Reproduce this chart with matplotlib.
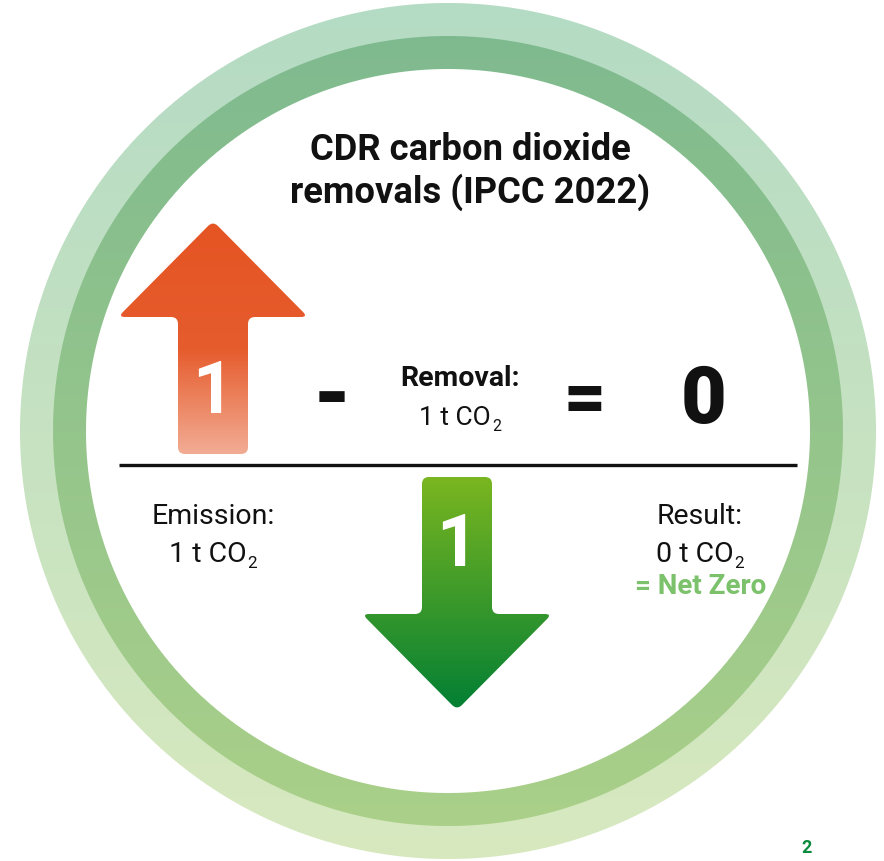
import numpy as np
import matplotlib
matplotlib.use("Agg")
import matplotlib.pyplot as plt
from matplotlib.path import Path
from matplotlib.patches import PathPatch

# ---- data ----
emission_t = 1
removal_t = 1
result_t = emission_t - removal_t
title_lines = ["CDR carbon dioxide", "removals (IPCC 2022)"]
labels = {"emission": "Emission:", "removal": "Removal:", "result": "Result:"}
net_zero_label = "= Net Zero"
page_number = "2"

W, H, DPI = 884, 862, 100
fig = plt.figure(figsize=(W / DPI, H / DPI), dpi=DPI)
ax = fig.add_axes([0, 0, 1, 1])
ax.set_xlim(0, W)
ax.set_ylim(H, 0)
ax.axis("off")

# ---- ring background ----
cx, cy = 448, 432
r_out, r_mid, r_in = 428, 395, 362
yy, xx = np.mgrid[0:H, 0:W] + 0.5
rr = np.hypot(xx - cx, yy - cy)
t = np.clip((yy - (cy - r_out)) / (2 * r_out), 0, 1)[..., None]
light_top, light_bot = np.array([180, 219, 196]), np.array([216, 233, 191])
dark_top, dark_bot = np.array([125, 185, 143]), np.array([172, 209, 137])
light = (light_top + (light_bot - light_top) * t) / 255
dark = (dark_top + (dark_bot - dark_top) * t) / 255
a_out = np.clip(r_out - rr + 0.5, 0, 1)
a_mid = np.clip(r_mid - rr + 0.5, 0, 1)
a_in = np.clip(r_in - rr + 0.5, 0, 1)
white = np.ones(3)
col = light * (1 - a_mid)[..., None] + dark * a_mid[..., None]
col = col * (1 - a_in)[..., None] + white * a_in[..., None]
img = np.dstack([col, a_out])
ax.imshow(img, extent=(0, W, H, 0), interpolation="bilinear", zorder=0)


def rounded_path(pts, r):
    pts = [np.asarray(p, float) for p in pts]
    n = len(pts)
    verts, codes = [], []
    for i in range(n):
        p0, p1, p2 = pts[i - 1], pts[i], pts[(i + 1) % n]
        v1, v2 = p0 - p1, p2 - p1
        l1, l2 = np.hypot(*v1), np.hypot(*v2)
        a = p1 + v1 / l1 * min(r, l1 / 2)
        b = p1 + v2 / l2 * min(r, l2 / 2)
        verts.append(a)
        codes.append(Path.MOVETO if i == 0 else Path.LINETO)
        verts += [p1, b]
        codes += [Path.CURVE3, Path.CURVE3]
    verts.append(verts[0])
    codes.append(Path.CLOSEPOLY)
    return Path(verts, codes)


UNIT = 233  # pixel length of 1 t arrow
HEAD_LEN, HEAD_HW, SHAFT_HW = 96, 95, 35


def arrow(xc, y_start, value, direction, stops):
    L = UNIT * value
    tip = y_start + direction * L
    hb = tip - direction * HEAD_LEN
    pts = [(xc - SHAFT_HW, y_start), (xc - SHAFT_HW, hb), (xc - HEAD_HW, hb), (xc, tip),
           (xc + HEAD_HW, hb), (xc + SHAFT_HW, hb), (xc + SHAFT_HW, y_start)]
    path = rounded_path(pts, 7)
    patch = PathPatch(path, facecolor="none", edgecolor="none")
    ax.add_patch(patch)
    y0, y1 = min(y_start, tip), max(y_start, tip)
    ys = np.linspace(y0, y1, 256)
    fr = (ys - y0) / (y1 - y0)
    sp = np.array([s[0] for s in stops])
    cs = np.array([s[1] for s in stops]) / 255
    grad = np.stack([np.interp(fr, sp, cs[:, k]) for k in range(3)], axis=-1)
    grad = np.repeat(grad[:, None, :], 2, axis=1)
    im = ax.imshow(grad, extent=(xc - HEAD_HW - 2, xc + HEAD_HW + 2, y1, y0),
                   interpolation="bilinear", aspect="auto", zorder=2)
    im.set_clip_path(patch)
    return tip


# up arrow: emission (gradient from tip to tail)
arrow(213, 455, emission_t, -1,
      [(0, (229, 84, 35)), (0.55, (230, 92, 45)), (1.0, (242, 172, 148))])
# down arrow: removal
arrow(457, 478, removal_t, 1,
      [(0, (122, 182, 32)), (1.0, (2, 127, 52))])

BOLD = "Roboto"
TXT = "#111111"
LIGHT_W = "normal"

# numbers in arrows
ax.text(213, 394, f"{emission_t}", fontsize=52, fontfamily=BOLD, fontweight="bold",
        color="white", ha="center", va="center", zorder=3)
ax.text(457, 547, f"{removal_t}", fontsize=52, fontfamily=BOLD, fontweight="bold",
        color="white", ha="center", va="center", zorder=3)

# title
ax.text(470, 150, title_lines[0], fontsize=26.2, fontfamily=BOLD, fontweight="bold",
        color=TXT, ha="center", va="center")
ax.text(470, 192, title_lines[1], fontsize=26.2, fontfamily=BOLD, fontweight="bold",
        color=TXT, ha="center", va="center")

# horizontal line
ax.plot([119, 797], [466, 466], color="#111111", lw=2.4, solid_capstyle="butt", zorder=3)

# operators
ax.text(332, 400, "-", fontsize=62, fontfamily=BOLD, fontweight="black", color="#111111",
        ha="center", va="center")
ax.text(585, 402, "=", fontsize=52, fontfamily=BOLD, fontweight="black", color="#111111",
        ha="center", va="center")
ax.text(703, 401, f"{result_t}", fontsize=57, fontfamily=BOLD, fontweight="black",
        color="#111111", ha="center", va="center")

renderer = fig.canvas.get_renderer()


def co2_label(xc, y_base, value, size):
    main = ax.text(0, y_base, f"{value} t CO", fontsize=size, fontfamily="Roboto",
                   fontweight=LIGHT_W, color=TXT, ha="left", va="baseline")
    sub = ax.text(0, y_base + size * 0.3, "2", fontsize=size * 0.6, fontfamily="Roboto",
                  fontweight=LIGHT_W, color=TXT, ha="left", va="baseline")
    w1 = main.get_window_extent(renderer).width
    w2 = sub.get_window_extent(renderer).width
    gap = 1
    x0 = xc - (w1 + gap + w2) / 2
    main.set_x(x0)
    sub.set_x(x0 + w1 + gap)


# removal
ax.text(460, 379, labels["removal"], fontsize=20.5, fontfamily=BOLD, fontweight="bold",
        color=TXT, ha="center", va="center")
co2_label(460, 425, removal_t, 19)

# emission
ax.text(213, 517, labels["emission"], fontsize=20.5, fontfamily="Roboto", fontweight=LIGHT_W,
        color=TXT, ha="center", va="center")
co2_label(213, 562, emission_t, 20.5)

# result
ax.text(700, 517, labels["result"], fontsize=20.5, fontfamily="Roboto", fontweight=LIGHT_W,
        color=TXT, ha="center", va="center")
co2_label(700, 562, result_t, 20.5)
ax.text(701, 587, net_zero_label, fontsize=20, fontfamily=BOLD, fontweight="bold",
        color="#7cc26c", ha="center", va="center")

# page number
ax.text(806, 848, page_number, fontsize=13, fontfamily=BOLD, fontweight="bold",
        color="#0a8a3c", ha="center", va="center")

fig.savefig("out.png", dpi=DPI)
